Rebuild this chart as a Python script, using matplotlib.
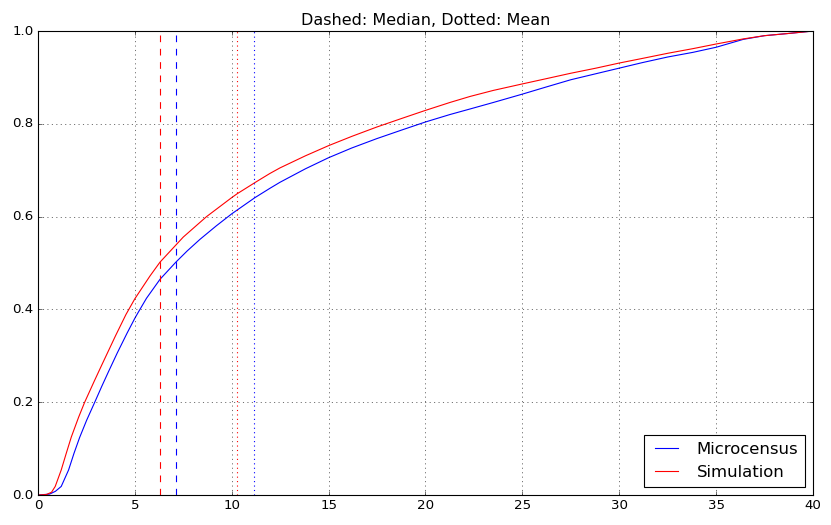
import matplotlib
matplotlib.use('Agg')
import matplotlib.pyplot as plt

# distance values (x) and cumulative share (y)
micro_x = [0.0, 0.6, 0.9, 1.2, 1.58, 1.86, 2.15, 2.51, 2.93, 3.29, 3.63, 4.09, 4.6,
           5.0, 5.15, 5.6, 6.3, 7.12, 7.7, 8.36, 9.2, 10.0, 11.2, 11.97, 12.49,
           13.8, 15.0, 16.2, 17.48, 18.8, 20.0, 21.26, 22.3, 23.5, 25.0, 26.2,
           27.5, 28.8, 30.0, 31.2, 32.5, 33.8, 35.0, 36.4, 37.5, 38.8, 40.0]
micro_y = [0.0, 0.002, 0.008, 0.0185, 0.054, 0.09, 0.124, 0.161, 0.2, 0.234, 0.265,
           0.306, 0.349, 0.381, 0.392, 0.424, 0.465, 0.502, 0.526, 0.551, 0.58,
           0.606, 0.641, 0.661, 0.674, 0.703, 0.727, 0.748, 0.768, 0.787, 0.804,
           0.820, 0.832, 0.846, 0.864, 0.879, 0.895, 0.908, 0.920, 0.932, 0.944,
           0.954, 0.965, 0.982, 0.990, 0.995, 1.0]

sim_x = [0.0, 0.43, 0.7, 0.89, 1.2, 1.46, 1.72, 2.1, 2.41, 2.9, 3.29, 4.0, 4.54,
         5.0, 5.78, 6.3, 7.5, 8.7, 10.0, 10.27, 11.3, 11.97, 12.49, 13.8, 15.0,
         16.2, 17.48, 18.8, 20.0, 21.26, 22.3, 23.5, 25.0, 26.2, 27.5, 28.8, 30.0,
         31.2, 32.5, 33.8, 35.0, 36.4, 37.5, 38.8, 40.0]
sim_y = [0.0, 0.001, 0.006, 0.0185, 0.054, 0.09, 0.125, 0.168, 0.2, 0.245, 0.28,
         0.343, 0.389, 0.423, 0.472, 0.502, 0.556, 0.6, 0.641, 0.649, 0.676, 0.693,
         0.705, 0.731, 0.753, 0.773, 0.793, 0.812, 0.829, 0.846, 0.859, 0.872,
         0.886, 0.897, 0.909, 0.920, 0.931, 0.941, 0.952, 0.962, 0.972, 0.983,
         0.990, 0.995, 1.0]

micro_median, micro_mean = 7.12, 11.15
sim_median, sim_mean = 6.3, 10.27

plt.style.use('classic')
fig = plt.figure(figsize=(831 / 80, 525 / 80), dpi=80)
ax = fig.add_axes([0.0457, 0.0571, 0.9326, 0.8838])

ax.plot(micro_x, micro_y, 'b-', label='Microcensus')
ax.plot(sim_x, sim_y, 'r-', label='Simulation')

ax.axvline(micro_median, color='b', linestyle='--')
ax.axvline(sim_median, color='r', linestyle='--')
ax.axvline(micro_mean, color='b', linestyle=':')
ax.axvline(sim_mean, color='r', linestyle=':')

ax.set_xlim(0, 40)
ax.set_ylim(0, 1)
ax.grid(True)
ax.set_title('Dashed: Median, Dotted: Mean')
ax.legend(loc='lower right', fontsize=14.8)

fig.savefig('out.png', dpi=80)
